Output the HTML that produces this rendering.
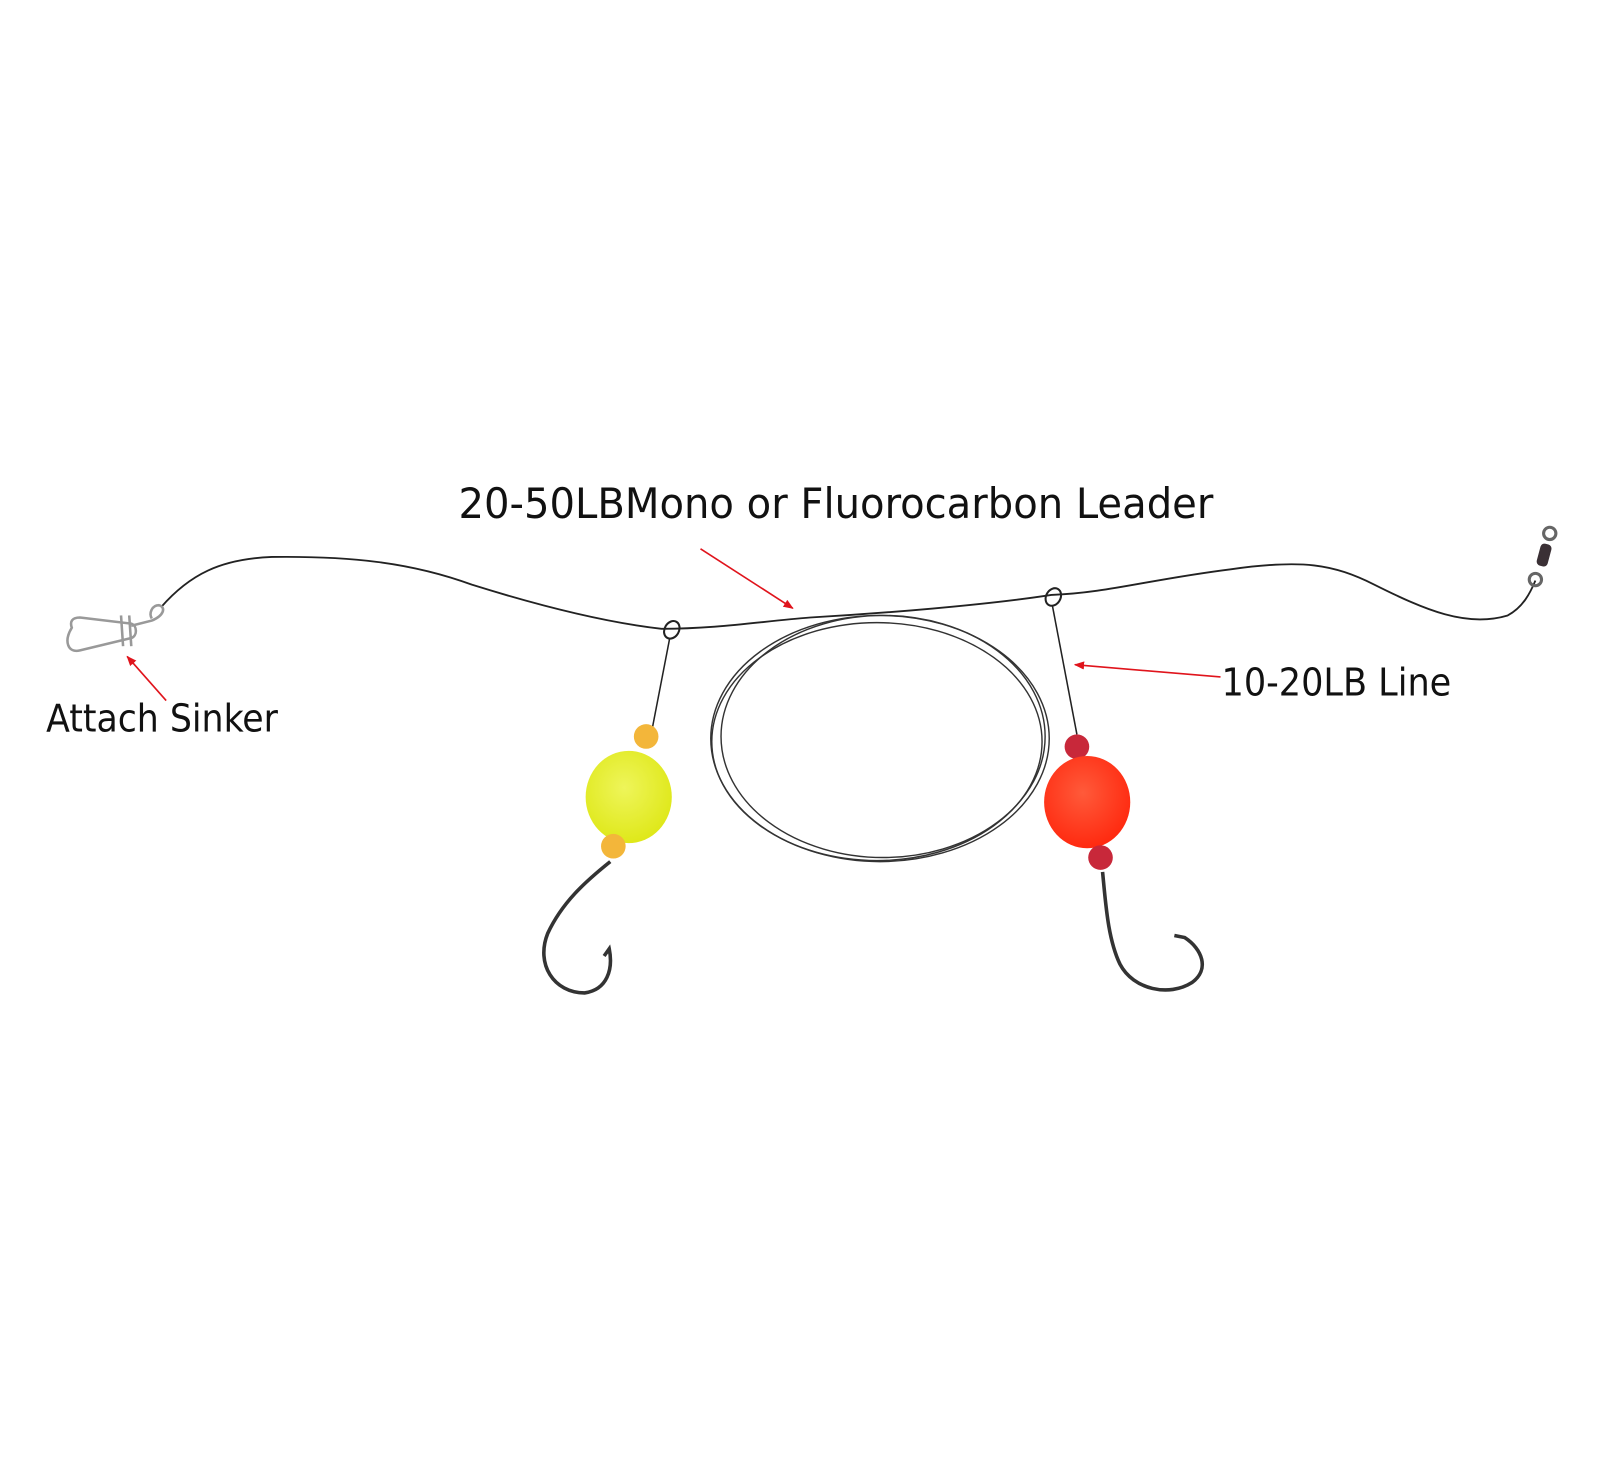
<!DOCTYPE html>
<html><head><meta charset="utf-8"><style>html,body{margin:0;padding:0;background:#fff}svg{display:block}</style></head>
<body>
<svg width="1600" height="1474" viewBox="0 0 1560 1437" preserveAspectRatio="none" xmlns="http://www.w3.org/2000/svg">
<defs>
<marker id="ah" markerWidth="10" markerHeight="8" refX="9" refY="4" orient="auto" markerUnits="userSpaceOnUse"><path d="M0,0 L10,4 L0,8 Z" fill="#e0141c"/></marker>
<radialGradient id="yel" cx="0.45" cy="0.4" r="0.6"><stop offset="0" stop-color="#eef55a"/><stop offset="1" stop-color="#dfe81a"/></radialGradient>
<radialGradient id="red" cx="0.45" cy="0.4" r="0.6"><stop offset="0" stop-color="#ff5a3a"/><stop offset="1" stop-color="#ff2a10"/></radialGradient>
</defs>
<rect width="1560" height="1437" fill="#fff"/>
<!-- main line -->
<path d="M157,592 C185,560 215,545 265,543 C340,542 400,548 460,570 C540,595 600,608 645,613 C700,613 740,606 790,602 C860,598 960,590 1025,580 C1080,578 1120,565 1200,555 C1270,545 1300,550 1340,570 C1390,595 1430,612 1470,600 C1485,592 1492,578 1497,566" fill="none" stroke="#222" stroke-width="1.8"/>
<!-- coil -->
<g fill="none" stroke="#333" stroke-width="1.4">
<ellipse cx="858" cy="720" rx="165" ry="120"/>
<ellipse cx="855" cy="723" rx="161" ry="116"/>
<ellipse cx="861" cy="718" rx="158" ry="118"/>
</g>
<!-- snap -->
<g fill="none" stroke="#999" stroke-width="2.5">
<path d="M70,612 C62,625 66,637 78,634 L128,622 C134,620 134,610 128,608 L78,602 C70,602 68,606 70,612 Z"/>
<path d="M118,600 L120,630 M126,600 L128,630"/>
<path d="M128,610 L148,605 C160,600 162,592 155,590 C148,590 145,598 148,603"/>
</g>
<!-- swivel -->
<g fill="none" stroke="#666" stroke-width="3">
<circle cx="1511" cy="520" r="6"/>
<circle cx="1497" cy="565" r="6"/>
</g>
<rect x="1500" y="530" width="11" height="22" rx="4" fill="#3a3035" transform="rotate(15 1505 541)"/>
<!-- left drop -->
<ellipse cx="655" cy="614" rx="7" ry="9" fill="none" stroke="#222" stroke-width="2" transform="rotate(30 655 614)"/>
<path d="M653,622 L636,710" stroke="#222" stroke-width="1.5"/>
<circle cx="630" cy="718" r="12" fill="#f3b63a"/>
<ellipse cx="613" cy="777" rx="42" ry="45" fill="url(#yel)"/>
<circle cx="598" cy="825" r="12" fill="#f3b63a"/>
<path d="M595,840 C570,860 548,880 534,910 C522,940 540,968 570,968 C592,965 598,945 594,925 L589,932" fill="none" stroke="#333" stroke-width="3.5"/>
<!-- right drop -->
<ellipse cx="1027" cy="582" rx="7" ry="9" fill="none" stroke="#222" stroke-width="2" transform="rotate(30 1027 582)"/>
<path d="M1026,590 L1050,716" stroke="#222" stroke-width="1.5"/>
<circle cx="1050" cy="728" r="12" fill="#c8283a"/>
<ellipse cx="1060" cy="782" rx="42" ry="45" fill="url(#red)"/>
<circle cx="1073" cy="836" r="12" fill="#c8283a"/>
<path d="M1075,850 C1078,880 1080,915 1092,940 C1105,965 1140,972 1162,958 C1180,945 1172,925 1155,914 L1145,912" fill="none" stroke="#333" stroke-width="3.5"/>
<!-- arrows -->
<g stroke="#e0141c" stroke-width="1.6" marker-end="url(#ah)">
<line x1="683" y1="535" x2="773" y2="593"/>
<line x1="162" y1="683" x2="124" y2="640"/>
<line x1="1190" y1="660" x2="1048" y2="648"/>
</g>
<!-- labels -->
<g font-family="'DejaVu Sans Condensed','DejaVu Sans','Liberation Sans',sans-serif" fill="#111">
<text x="447" y="505" font-size="41" textLength="736" lengthAdjust="spacingAndGlyphs">20-50LBMono or Fluorocarbon Leader</text>
<text x="45" y="713" font-size="37" textLength="226" lengthAdjust="spacingAndGlyphs">Attach Sinker</text>
<text x="1191" y="678" font-size="37" textLength="224" lengthAdjust="spacingAndGlyphs">10-20LB Line</text>
</g>
</svg>
</body></html>
